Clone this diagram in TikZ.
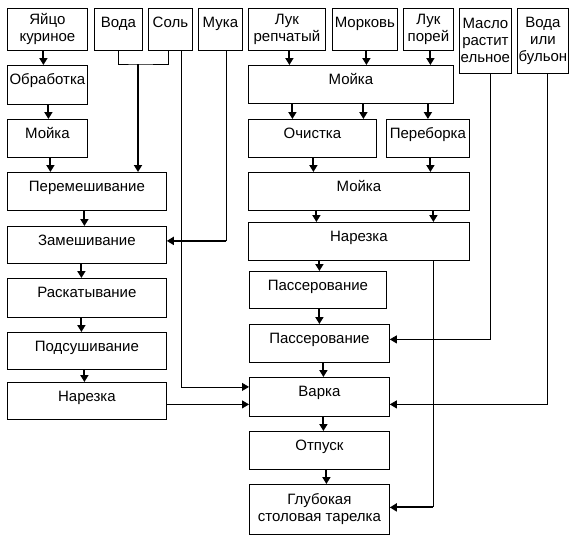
\documentclass[tikz,border=0pt]{standalone}
\usepackage{fontspec}
\setmainfont{Liberation Sans}
\usepackage{tikz}
\usetikzlibrary{arrows.meta}

\begin{document}
\begin{tikzpicture}[
    x=1pt, y=-1pt,
    every node/.style={font=\fontsize{15}{17}\selectfont, inner sep=0pt},
    box/.style={draw, line width=0.8pt, anchor=north west, text height=19pt, text depth=19pt},
    bigbox/.style={draw, line width=0.8pt, anchor=north west, align=center},
    line/.style={line width=0.8pt},
    arr/.style={line width=2pt, -{Triangle[length=7pt,width=8pt]}},
    larr/.style={line width=0.8pt, -{Triangle[length=7pt,width=8pt]}}
]
\useasboundingbox (0,0) rectangle (569,536);

% Nodes
\node[bigbox, minimum width=80pt, minimum height=42pt] (egg) at (7,8) {Яйцо\\куриное};
\node[box, minimum width=48pt, text depth=23pt] (water) at (94,8) {Вода};
\node[box, minimum width=44pt, text depth=23pt] (salt) at (148,8) {Соль};
\node[box, minimum width=44pt, text depth=23pt] (flour) at (198,8) {Мука};
\node[bigbox, minimum width=77pt, minimum height=42pt] (onion) at (248,8) {Лук\\репчатый};
\node[box, minimum width=65pt, text depth=23pt] (carrot) at (332,8) {Морковь};
\node[bigbox, minimum width=50pt, minimum height=42pt] (leek) at (403,8) {Лук\\порей};
\node[bigbox, minimum width=52pt, minimum height=65pt] (oil) at (459,8) {Масло\\растит\\ельное};
\node[bigbox, minimum width=51pt, minimum height=65pt] (broth) at (517,8) {Вода\\или\\бульон};

\node[box, minimum width=80pt, text depth=20pt] (proc) at (7,65) {Обработка};
\node[box, minimum width=80pt] (wash1) at (7,119) {Мойка};
\node[box, minimum width=159pt] (mix) at (7,172) {Перемешивание};
\node[box, minimum width=159pt, text depth=18pt] (knead) at (7,226) {Замешивание};
\node[box, minimum width=159pt, text depth=20pt] (roll) at (7,278) {Раскатывание};
\node[box, minimum width=159pt, text depth=18pt] (dry) at (7,332) {Подсушивание};
\node[box, minimum width=159pt, text depth=18pt] (cut1) at (7,382) {Нарезка};

\node[box, minimum width=205pt] (wash2) at (248,65) {Мойка};
\node[box, minimum width=128pt] (peel) at (248,119) {Очистка};
\node[box, minimum width=83pt] (sort) at (386,119) {Переборка};
\node[box, minimum width=221pt] (wash3) at (248,172) {Мойка};
\node[box, minimum width=221pt] (cut2) at (248,222) {Нарезка};
\node[box, minimum width=137pt, text depth=18pt] (saute1) at (249,271) {Пассерование};
\node[box, minimum width=140pt] (saute2) at (249,324) {Пассерование};
\node[box, minimum width=140pt, text depth=20pt] (boil) at (249,377) {Варка};
\node[box, minimum width=140pt] (serve) at (249,431) {Отпуск};
\node[bigbox, minimum width=140pt, minimum height=50pt] (plate) at (249,484) {Глубокая\\столовая тарелка};

% Edges
\draw[arr] ([xshift=-4pt]egg.south) -- ([xshift=-4pt]egg.south |- proc.north);
\draw[arr] ([xshift=1pt]proc.south) -- ([xshift=1pt]proc.south |- wash1.north);
\draw[arr] ([xshift=3pt]wash1.south) -- ([xshift=3pt]wash1.south |- mix.north);
\draw[arr] ([xshift=-2.5pt]mix.south) -- ([xshift=-2.5pt]mix.south |- knead.north);
\draw[arr] ([xshift=-5.5pt]knead.south) -- ([xshift=-5.5pt]knead.south |- roll.north);
\draw[arr] ([xshift=-5.5pt]roll.south) -- ([xshift=-5.5pt]roll.south |- dry.north);
\draw[arr] ([xshift=-2.5pt]dry.south) -- ([xshift=-2.5pt]dry.south |- cut1.north);

\draw[arr] ([xshift=2.5pt]onion.south) -- ([xshift=2.5pt]onion.south |- wash2.north);
\draw[arr] ([xshift=1.5pt]carrot.south) -- ([xshift=1.5pt]carrot.south |- wash2.north);
\draw[arr] ([xshift=2pt]leek.south) -- ([xshift=2pt]leek.south |- wash2.north);
\draw[arr] ([xshift=-20pt]peel.north |- wash2.south) -- ([xshift=-20pt]peel.north);
\draw[arr] ([xshift=51pt]peel.north |- wash2.south) -- ([xshift=51pt]peel.north);
\draw[arr] (sort.north |- wash2.south) -- (sort.north);
\draw[arr] ([xshift=1pt]peel.south) -- ([xshift=1pt]peel.south |- wash3.north);
\draw[arr] ([xshift=2.5pt]sort.south) -- ([xshift=2.5pt]sort.south |- wash3.north);
\draw[arr] ([xshift=-42.5pt]wash3.south) -- ([xshift=-42.5pt]wash3.south |- cut2.north);
\draw[arr] ([xshift=74.5pt]wash3.south) -- ([xshift=74.5pt]wash3.south |- cut2.north);
\draw[arr] ([xshift=1.5pt]saute1.north |- cut2.south) -- ([xshift=1.5pt]saute1.north);
\draw[arr] (saute2.north |- saute1.south) -- (saute2.north);
\draw[arr] ([xshift=4pt]saute2.south) -- ([xshift=4pt]saute2.south |- boil.north);
\draw[arr] ([xshift=4pt]boil.south) -- ([xshift=4pt]boil.south |- serve.north);
\draw[arr] ([xshift=7pt]serve.south) -- ([xshift=7pt]serve.south |- plate.north);

% Water and salt into the mix
\coordinate (ws) at (138,64);
\draw[line] (water.south) |- (ws) -| ([xshift=-2pt]salt.south);
\draw[arr] (ws) -- (ws |- mix.north);

% Side lines
\coordinate (fk) at ([xshift=6pt,yshift=4pt]flour.south |- knead.east);
\draw[line] ([xshift=6pt]flour.south) -- (fk);
\draw[arr] (fk) -- (fk -| knead.east);
\draw[larr] ([xshift=11pt]salt.south) |- ([yshift=10pt]boil.west);
\draw[larr] ([yshift=-3.5pt]cut1.east) -- ([yshift=-3.5pt]cut1.east -| boil.west);
\draw[larr] ([xshift=5pt]oil.south) |- ([yshift=4pt]saute2.east);
\draw[larr] ([xshift=4.5pt]broth.south) |- ([yshift=-7.5pt]boil.east);
\coordinate (cp) at ([xshift=74pt,yshift=2pt]cut2.south |- plate.east);
\draw[line] ([xshift=74pt]cut2.south) -- (cp);
\draw[arr] (cp) -- (cp -| plate.east);

\end{tikzpicture}
\end{document}
